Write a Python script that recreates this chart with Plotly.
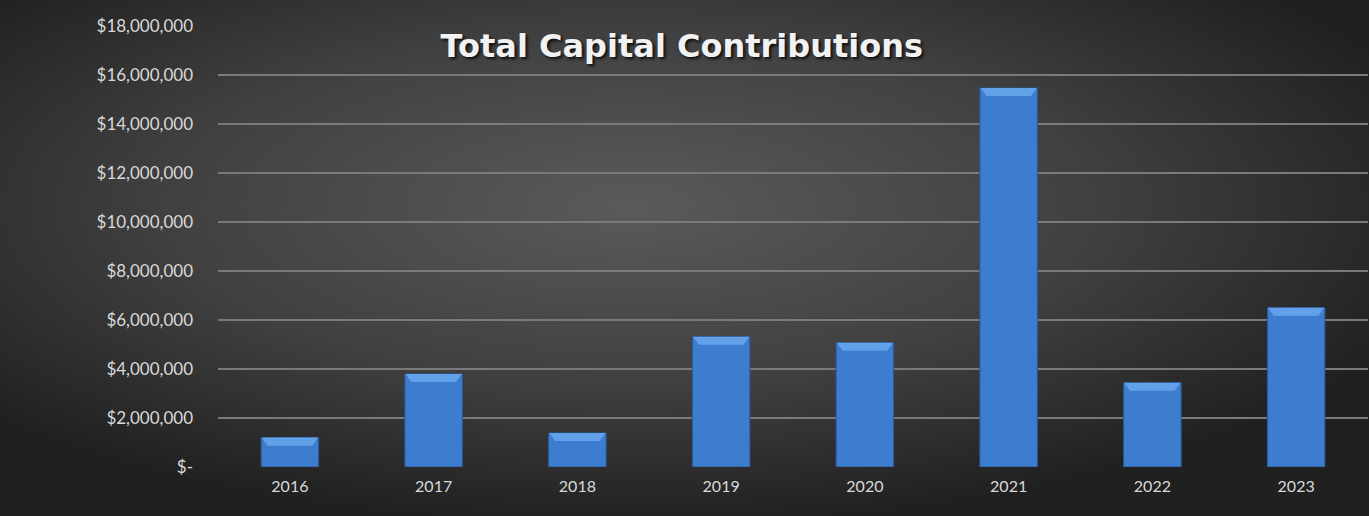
import base64
import plotly.graph_objects as go

# Annual totals
years = ["2016", "2017", "2018", "2019", "2020", "2021", "2022", "2023"]
contributions = [1200000, 3800000, 1390000, 5320000, 5070000, 15470000, 3440000, 6500000]

# Accounting-style y-axis ticks
tick_values = [0, 2000000, 4000000, 6000000, 8000000, 10000000, 12000000, 14000000, 16000000, 18000000]
tick_labels = ["$-", "$2,000,000", "$4,000,000", "$6,000,000", "$8,000,000", "$10,000,000",
               "$12,000,000", "$14,000,000", "$16,000,000", "$18,000,000"]

W, H = 1369, 516
M = dict(l=218, r=1, t=26, b=49)
plot_w = W - M["l"] - M["r"]
plot_h = H - M["t"] - M["b"]

# Dark radial-gradient backdrop for the whole canvas
svg = f"""<svg xmlns='http://www.w3.org/2000/svg' width='{W}' height='{H}'>
<defs><radialGradient id='g' cx='0.46' cy='0.40' r='0.62' gradientUnits='objectBoundingBox'>
<stop offset='0' stop-color='#5a5a5a'/><stop offset='0.55' stop-color='#404040'/>
<stop offset='1' stop-color='#202020'/></radialGradient></defs>
<rect width='100%' height='100%' fill='url(#g)'/></svg>"""
bg_uri = "data:image/svg+xml;base64," + base64.b64encode(svg.encode()).decode()

fig = go.Figure()
fig.add_trace(go.Bar(
    x=years, y=contributions, width=0.4,
    marker=dict(color="#3d7dd0", line=dict(color="#2a5896", width=1)),
    hovertemplate="%{x}: $%{y:,.0f}<extra></extra>",
))

# Bevelled highlight across the top of each bar
bevel = 330000
half = 0.2
inset = 0.045
shapes = []
for i, v in enumerate(contributions):
    path = (f"M {i - half + 0.004} {v} L {i + half - 0.004} {v} "
            f"L {i + half - inset} {v - bevel} L {i - half + inset} {v - bevel} Z")
    shapes.append(dict(type="path", xref="x", yref="y", path=path,
                       fillcolor="#62a0e8", line=dict(width=0), layer="above"))

fig.update_layout(
    width=W, height=H, margin=M,
    paper_bgcolor="#2a2a2a", plot_bgcolor="rgba(0,0,0,0)",
    images=[dict(source=bg_uri, xref="paper", yref="paper",
                 x=-M["l"] / plot_w, y=1 + M["t"] / plot_h,
                 sizex=W / plot_w, sizey=H / plot_h,
                 xanchor="left", yanchor="top", sizing="stretch", layer="below")],
    shapes=shapes,
    title=dict(text="<b>Total Capital Contributions</b>", x=0.498, xanchor="center",
               y=1 - 46 / H, yanchor="middle", xref="container", yref="container",
               font=dict(family="DejaVu Sans", size=32, color="#f2f2f2",
                         shadow="2px 2px 3px rgba(0,0,0,0.8)")),
    showlegend=False,
    font=dict(family="Lato", size=16, color="#d9d9d9"),
    xaxis=dict(showgrid=False, showline=False, ticks="", ticklabelstandoff=8,
               tickfont=dict(size=16, color="#d9d9d9")),
    yaxis=dict(range=[0, 18000000], tickvals=tick_values, ticktext=tick_labels,
               showgrid=True, gridcolor="#7a7a7a", gridwidth=1.5, zeroline=False,
               ticks="", ticklabelstandoff=24, tickfont=dict(size=17, color="#d9d9d9")),
    bargap=0.6,
)

fig.write_html("out.html")
